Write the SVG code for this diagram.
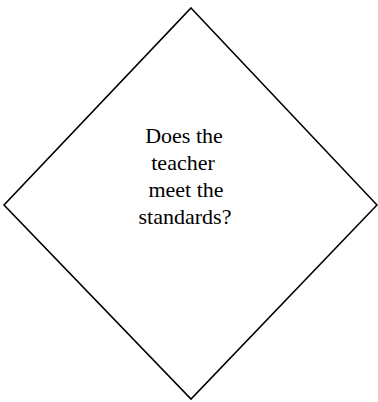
<svg xmlns="http://www.w3.org/2000/svg" width="378" height="402" viewBox="0 0 378 402">
<style>
.shape{fill:#fff;stroke:#000;stroke-width:1.6}
.lbl{font-family:"Liberation Serif","Times New Roman",serif;font-size:22px;fill:#000;text-anchor:middle}
</style>
<rect width="378" height="402" fill="#fff"/>
<g id="decision">
<polygon class="shape" points="191,8 377,205 191,399 4,205"/>
<text class="lbl" x="184" y="143">Does the</text>
<text class="lbl" x="183" y="170">teacher</text>
<text class="lbl" x="186" y="197">meet the</text>
<text class="lbl" x="185" y="224">standards?</text>
</g>
<g id="connectors"/>
</svg>
